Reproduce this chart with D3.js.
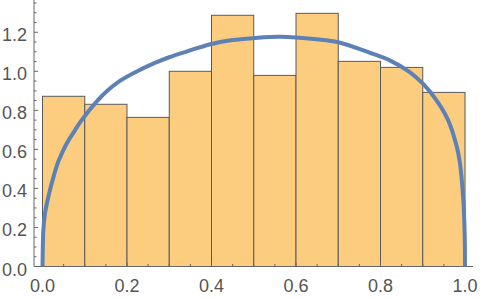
<!DOCTYPE html>
<html>
<head>
<meta charset="UTF-8">
<style>
  body { margin: 0; background: #fff; }
  text { font-family: "Liberation Sans", Arial, sans-serif; fill: #555; }
</style>
</head>
<body>
<script src="https://d3js.org/d3.v7.min.js"></script>
<script>
// histogram bins (left edges, width 0.1) and heights
const binStarts = [0.0, 0.1, 0.2, 0.3, 0.4, 0.5, 0.6, 0.7, 0.8, 0.9];
const binHeights = [0.872, 0.831, 0.764, 1.0, 1.287, 0.979, 1.297, 1.051, 1.020, 0.892];

// density curve
const curveX = [0, 0.0008, 0.002, 0.006, 0.014, 0.024, 0.037, 0.056, 0.076, 0.091, 0.128, 0.152, 0.179, 0.215,
  0.266, 0.300, 0.333, 0.400, 0.450, 0.499, 0.562, 0.649, 0.700, 0.775, 0.822, 0.870, 0.901, 0.933, 0.960, 0.981, 0.988, 0.996, 0.9992, 1.0];
const curveY = [0, 0.10, 0.187, 0.273, 0.358, 0.443, 0.535, 0.625, 0.695, 0.745, 0.845, 0.898, 0.945, 0.990,
  1.043, 1.072, 1.096, 1.140, 1.160, 1.170, 1.177, 1.164, 1.149, 1.095, 1.056, 0.995, 0.935, 0.850, 0.750, 0.610, 0.530, 0.341, 0.17, 0];

const xTicks = [0, 0.2, 0.4, 0.6, 0.8, 1.0];
const yTicks = [0, 0.2, 0.4, 0.6, 0.8, 1.0, 1.2];

const width = 480, height = 298;
const svg = d3.select("body").append("svg").attr("width", width).attr("height", height);

const x = d3.scaleLinear().domain([0, 1]).range([42.5, 465]);
const y = d3.scaleLinear().domain([0, 1]).range([266.5, 71.3]);
const xMin = x.invert(34), xMax = x.invert(473);
const yMax = y.invert(0);

// bars
svg.append("g").selectAll("rect").data(binStarts).join("rect")
  .attr("x", d => x(d))
  .attr("width", d => x(d + 0.1) - x(d))
  .attr("y", (d, i) => y(binHeights[i]))
  .attr("height", (d, i) => y(0) - y(binHeights[i]))
  .attr("fill", "#fccd7f")
  .attr("stroke", "#5a5a5a")
  .attr("stroke-width", 1);

// axes
const axisColor = "#666";
svg.append("line").attr("x1", x(xMin)).attr("x2", x(xMax)).attr("y1", y(0)).attr("y2", y(0))
  .attr("stroke", axisColor);
svg.append("line").attr("x1", x(xMin)).attr("x2", x(xMin)).attr("y1", y(0)).attr("y2", 0)
  .attr("stroke", axisColor);

const xMinor = d3.range(0, 1.0001, 0.05);
svg.append("g").selectAll("line").data(xMinor).join("line")
  .attr("x1", d => x(d)).attr("x2", d => x(d))
  .attr("y1", y(0)).attr("y2", (d, i) => y(0) - (i % 4 === 0 ? 4 : 2.5))
  .attr("stroke", axisColor);

const yMinor = d3.range(0, yMax, 0.05);
svg.append("g").selectAll("line").data(yMinor).join("line")
  .attr("x1", x(xMin)).attr("x2", (d, i) => x(xMin) + (i % 4 === 0 ? 4 : 2.5))
  .attr("y1", d => y(d)).attr("y2", d => y(d))
  .attr("stroke", axisColor);

svg.append("g").selectAll("text").data(xTicks).join("text")
  .attr("x", d => x(d)).attr("y", 292)
  .attr("text-anchor", "middle").attr("font-size", 18)
  .text(d => d.toFixed(1));

svg.append("g").selectAll("text").data(yTicks).join("text")
  .attr("x", 27).attr("y", d => y(d) + 9)
  .attr("text-anchor", "end").attr("font-size", 18)
  .text(d => d.toFixed(1));

// density curve
const pts = curveX.map((v, i) => [v, curveY[i]]);
svg.append("path").datum(pts)
  .attr("d", d3.line().x(d => x(d[0])).y(d => y(d[1])).curve(d3.curveCatmullRom.alpha(0.5)))
  .attr("fill", "none")
  .attr("stroke", "#5e81b5")
  .attr("stroke-width", 4);
</script>
</body>
</html>
